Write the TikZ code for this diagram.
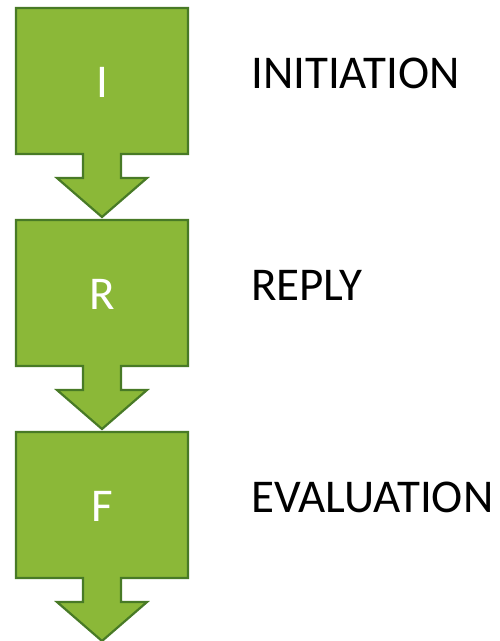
\documentclass[tikz,border=0pt]{standalone}
\usepackage{fontspec}
\setmainfont{Carlito}
\definecolor{boxfill}{RGB}{139,184,56}
\definecolor{boxline}{RGB}{72,122,38}
\tikzset{
  callout/.style={fill=boxfill, draw=boxline, line width=2.2pt, line join=miter},
  inner/.style={text=white, font=\fontsize{47}{50}\selectfont, anchor=base, inner sep=0pt},
  label/.style={text=black, font=\fontsize{47}{50}\selectfont, anchor=base west, inner sep=0pt}
}
\begin{document}
\begin{tikzpicture}[x=1pt,y=-1pt]
\useasboundingbox (0,0) rectangle (500,641);
\foreach \dy/\letter/\name/\word in {0/I/i/INITIATION, 212/R/r/REPLY, 424/F/f/EVALUATION}{
  \draw[callout] (16,8+\dy) -- (188,8+\dy) -- (188,154+\dy) -- (121,154+\dy) -- (121,178+\dy)
     -- (147,178+\dy) -- (102,217+\dy) -- (57,178+\dy) -- (83,178+\dy) -- (83,154+\dy)
     -- (16,154+\dy) -- cycle;
  \node[inner] (box\name) at (102,97+\dy) {\letter};
  \node[label] (lab\name) at (251,88+\dy) {\word};
}
\end{tikzpicture}
\end{document}
